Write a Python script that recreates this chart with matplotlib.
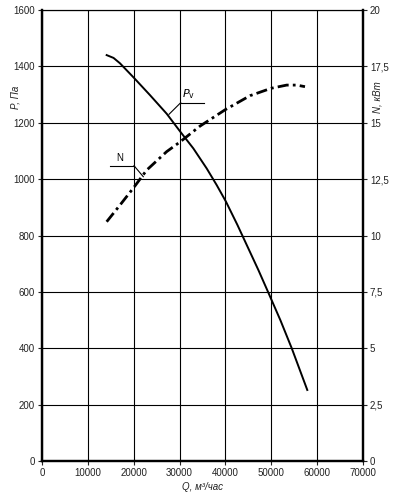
import matplotlib
matplotlib.use("Agg")
import matplotlib.pyplot as plt
from matplotlib.ticker import FixedLocator

plt.rcParams['font.family'] = ['Liberation Sans', 'DejaVu Sans']

# Pressure curve P_v (Pa) vs flow Q (m3/h)
q_p = [14100, 15600, 17000, 20130, 23550, 27190, 30170, 33000, 35910, 38090, 40120,
       42600, 45000, 47200, 49370, 52000, 54460, 57850]
p_v = [1440, 1430, 1411, 1358, 1298, 1232, 1168, 1109, 1038, 979, 920,
       838, 754, 677, 597, 499, 400, 252]

# Power curve N (kW) vs flow Q
q_n = [14100, 17010, 20130, 22830, 27190, 30170, 34450, 39970, 45360, 50000,
       53360, 55540, 57350]
n_kw = [10.61, 11.35, 12.16, 12.90, 13.72, 14.16, 14.85, 15.58, 16.20, 16.53,
        16.67, 16.67, 16.60]

x_ticks = [0, 10000, 20000, 30000, 40000, 50000, 60000, 70000]
y_ticks = [0, 200, 400, 600, 800, 1000, 1200, 1400, 1600]
y2_ticks = [0, 2.5, 5, 7.5, 10, 12.5, 15, 17.5, 20]
y2_labels = ['0', '2,5', '5', '7,5', '10', '12,5', '15', '17,5', '20']

fig = plt.figure(figsize=(4.06, 5.0), dpi=100)
ax = fig.add_axes([42/406, 39/500, 321/406, 451/500])
ax2 = ax.twinx()

ax.set_xlim(0, 70000)
ax.set_ylim(0, 1600)
ax2.set_ylim(0, 20)

ax.xaxis.set_major_locator(FixedLocator(x_ticks))
ax.yaxis.set_major_locator(FixedLocator(y_ticks))
ax.set_xticklabels([str(v) for v in x_ticks])
ax.set_yticklabels([str(v) for v in y_ticks])
ax2.yaxis.set_major_locator(FixedLocator(y2_ticks))
ax2.set_yticklabels(y2_labels)

ax.grid(True, color='black', linewidth=0.8)
ax.set_axisbelow(True)

for a in (ax, ax2):
    a.tick_params(labelsize=7, length=3, width=0.8, colors='#222222', pad=2)
    for s in ('left', 'right', 'bottom'):
        a.spines[s].set_linewidth(1.6)
    a.spines['top'].set_linewidth(0.8)

ax.plot(q_p, p_v, color='black', linewidth=1.4, zorder=5)
ax2.plot(q_n, n_kw, color='black', linewidth=2.0, linestyle=(0, (4, 1.5, 1, 1.5)), zorder=5)

ax.set_xlabel('Q, м³/час', fontsize=7, style='italic', labelpad=3, color='#222222')


def fx(px):
    return px / 406


def fy(py):
    return 1 - py / 500


fig.text(fx(15), fy(97), 'P, Па', fontsize=7, style='italic', rotation=90,
         ha='center', va='center', color='#222222')
fig.text(fx(378), fy(97), 'N, кВт', fontsize=7, style='italic', rotation=90,
         ha='center', va='center', color='#222222')

# annotations
fig.add_artist(plt.Line2D([fx(180.7), fx(204)], [fy(102.7), fy(102.7)], color='black', lw=0.8))
fig.add_artist(plt.Line2D([fx(180.7), fx(169)], [fy(102.7), fy(114.3)], color='black', lw=0.8))
fig.text(fx(182), fy(101), '$P_{\\mathrm{v}}$', fontsize=8, ha='left', va='bottom', style='italic')

fig.add_artist(plt.Line2D([fx(110), fx(134)], [fy(165.7), fy(165.7)], color='black', lw=0.8))
fig.add_artist(plt.Line2D([fx(134), fx(143.3)], [fy(165.7), fy(176.7)], color='black', lw=0.8))
fig.text(fx(119.5), fy(163), 'N', fontsize=7, ha='center', va='bottom')

fig.savefig('out.png', dpi=100)
